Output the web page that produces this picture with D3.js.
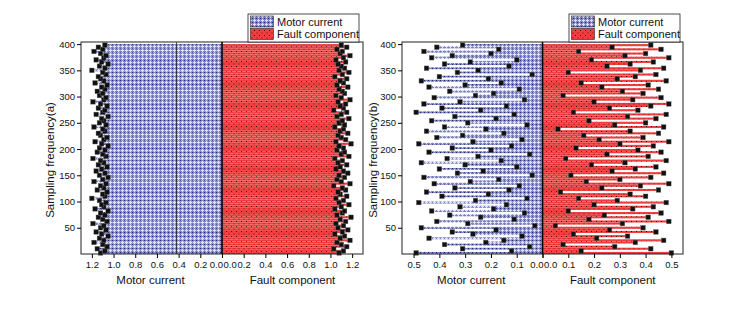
<!DOCTYPE html>
<html>
<head>
<meta charset="utf-8">
<script src="https://cdn.jsdelivr.net/npm/d3@7"></script>
<style>
  body { margin: 0; background: #fff; }
  svg { display: block; font-family: "Liberation Sans", Arial, sans-serif; }
</style>
</head>
<body>
<svg id="chart" width="740" height="309"></svg>
<script>
// sampling positions: one bar every 4 samples, 100 bars per side
var sampleStep = 4;
var yTicks = [50, 100, 150, 200, 250, 300, 350, 400];
var seriesNames = ["Motor current", "Fault component"];

// panel (a)
var motorA = [1.12,1.08,1.15,1.06,1.10,1.18,1.09,1.13,1.05,1.11,
  1.16,1.07,1.12,1.09,1.19,1.06,1.10,1.14,1.08,1.12,
  1.05,1.17,1.09,1.11,1.07,1.13,1.20,1.08,1.10,1.06,
  1.15,1.09,1.12,1.07,1.18,1.10,1.05,1.13,1.08,1.16,
  1.11,1.06,1.14,1.09,1.12,1.19,1.07,1.10,1.15,1.08,
  1.13,1.05,1.11,1.17,1.09,1.06,1.12,1.14,1.08,1.10,
  1.18,1.07,1.13,1.09,1.11,1.05,1.16,1.10,1.08,1.14,
  1.06,1.12,1.19,1.09,1.07,1.13,1.10,1.15,1.08,1.11,
  1.06,1.17,1.09,1.12,1.14,1.07,1.10,1.20,1.08,1.13,
  1.05,1.11,1.16,1.09,1.07,1.12,1.18,1.10,1.14,1.08];
var faultA = [1.08,1.12,1.03,1.15,1.10,1.06,1.18,1.09,1.13,1.04,
  1.11,1.16,1.07,1.12,1.05,1.14,1.09,1.19,1.06,1.11,
  1.13,1.04,1.10,1.17,1.08,1.12,1.05,1.15,1.09,1.07,
  1.14,1.11,1.03,1.18,1.10,1.06,1.13,1.08,1.16,1.12,
  1.05,1.09,1.15,1.07,1.11,1.04,1.17,1.10,1.13,1.06,
  1.12,1.08,1.19,1.05,1.14,1.10,1.07,1.16,1.09,1.12,
  1.04,1.13,1.08,1.11,1.17,1.06,1.10,1.15,1.03,1.12,
  1.09,1.14,1.07,1.18,1.10,1.05,1.13,1.11,1.08,1.16,
  1.06,1.12,1.09,1.15,1.04,1.11,1.17,1.08,1.13,1.10,
  1.07,1.14,1.05,1.12,1.18,1.09,1.11,1.06,1.15,1.10];
var ticksA = [0, 0.2, 0.4, 0.6, 0.8, 1.0, 1.2];

// panel (b)
var motorB = [0.49,0.12,0.31,0.05,0.38,0.22,0.15,0.44,0.08,0.27,
  0.35,0.18,0.47,0.03,0.29,0.41,0.11,0.24,0.36,0.07,
  0.43,0.19,0.32,0.14,0.48,0.26,0.06,0.39,0.21,0.45,
  0.13,0.34,0.09,0.42,0.28,0.17,0.46,0.04,0.33,0.23,
  0.40,0.10,0.30,0.47,0.16,0.37,0.25,0.05,0.44,0.20,
  0.35,0.12,0.48,0.27,0.08,0.41,0.31,0.15,0.45,0.22,
  0.38,0.06,0.29,0.43,0.18,0.34,0.11,0.49,0.24,0.39,
  0.14,0.46,0.32,0.07,0.42,0.26,0.19,0.36,0.09,0.44,
  0.30,0.16,0.47,0.21,0.40,0.04,0.33,0.25,0.45,0.13,
  0.38,0.28,0.10,0.43,0.35,0.20,0.46,0.17,0.41,0.31];
var faultB = [0.50,0.15,0.42,0.28,0.08,0.36,0.47,0.21,0.33,0.12,
  0.44,0.26,0.39,0.05,0.31,0.49,0.18,0.41,0.24,0.46,
  0.10,0.35,0.43,0.20,0.48,0.29,0.14,0.40,0.34,0.07,
  0.45,0.23,0.38,0.49,0.17,0.30,0.42,0.11,0.47,0.27,
  0.36,0.44,0.19,0.32,0.48,0.09,0.41,0.25,0.46,0.37,
  0.13,0.43,0.30,0.49,0.22,0.39,0.16,0.45,0.34,0.06,
  0.47,0.28,0.40,0.18,0.44,0.33,0.48,0.12,0.37,0.26,
  0.42,0.49,0.20,0.35,0.46,0.08,0.39,0.31,0.45,0.23,
  0.41,0.15,0.48,0.29,0.36,0.44,0.10,0.38,0.47,0.25,
  0.34,0.43,0.19,0.49,0.32,0.40,0.14,0.46,0.27,0.42];
var ticksB = [0, 0.1, 0.2, 0.3, 0.4, 0.5];

var svg = d3.select("#chart");
var defs = svg.append("defs");

function px(p, x, yy, c) {
  p.append("rect").attr("x", x).attr("y", yy).attr("width", 1).attr("height", 1).attr("fill", c);
}

// blue pattern: white crosses with dark dots between
var pb = defs.append("pattern").attr("id", "patBlue")
  .attr("patternUnits", "userSpaceOnUse").attr("width", 4).attr("height", 4);
pb.append("rect").attr("width", 4).attr("height", 4).attr("fill", "#7d82c4");
[[2,1],[1,2],[2,2],[3,2],[2,3]].forEach(function(p) { px(pb, p[0], p[1], "#dcdff8"); });
px(pb, 0, 0, "#282a6a");

// red dotted pattern
var pr = defs.append("pattern").attr("id", "patRed")
  .attr("patternUnits", "userSpaceOnUse").attr("width", 5).attr("height", 5);
pr.append("rect").attr("width", 5).attr("height", 5).attr("fill", "#f03e3e");
px(pr, 1, 1, "#3a0808");
px(pr, 3.5, 3.5, "#6a1010");

var y = d3.scaleLinear().domain([0, 404]).range([254, 42]);

function drawPanel(cfg) {
  var g = svg.append("g");
  var xl = d3.scaleLinear().domain([0, cfg.max]).range([cfg.xc, cfg.x0]);
  var xr = d3.scaleLinear().domain([0, cfg.max]).range([cfg.xc, cfg.x1]);

  var sides = [
    { data: cfg.motor, x: xl, fill: "url(#patBlue)" },
    { data: cfg.fault, x: xr, fill: "url(#patRed)" }
  ];

  sides.forEach(function(s) {
    g.append("g").selectAll("rect")
      .data(s.data)
      .enter().append("rect")
      .attr("x", function(d) { return Math.min(s.x(0), s.x(d)); })
      .attr("width", function(d) { return Math.abs(s.x(d) - s.x(0)); })
      .attr("y", function(d, i) { return y((i + 1) * sampleStep); })
      .attr("height", function(d, i) { return y(i * sampleStep) - y((i + 1) * sampleStep); })
      .attr("fill", s.fill);
  });

  if (cfg.refLine !== undefined) {
    g.append("line")
      .attr("x1", xl(cfg.refLine)).attr("x2", xl(cfg.refLine))
      .attr("y1", y(404)).attr("y2", y(0))
      .attr("stroke", "#222").attr("stroke-width", 0.8);
  }

  sides.forEach(function(s) {
    g.append("g").selectAll("rect")
      .data(s.data)
      .enter().append("rect")
      .attr("x", function(d) { return s.x(d) - 2.3; })
      .attr("y", function(d, i) { return y((i + 0.5) * sampleStep) - 2.3; })
      .attr("width", 4.6).attr("height", 4.6)
      .attr("fill", "#111").attr("stroke", "#666").attr("stroke-width", 0.4);
  });

  // frame
  g.append("rect")
    .attr("x", cfg.x0).attr("y", y(404))
    .attr("width", cfg.x1 - cfg.x0).attr("height", y(0) - y(404))
    .attr("fill", "none").attr("stroke", "#222").attr("stroke-width", 1);
  g.append("line")
    .attr("x1", cfg.xc).attr("x2", cfg.xc).attr("y1", y(404)).attr("y2", y(0))
    .attr("stroke", "#000").attr("stroke-width", 1.6);

  // y axis
  var ya = g.append("g").attr("transform", "translate(" + cfg.x0 + ",0)")
    .call(d3.axisLeft(y).tickValues(yTicks).tickSize(4).tickPadding(2));
  ya.select(".domain").remove();
  ya.selectAll("text").attr("font-size", 9.5).attr("fill", "#111");

  // x axes, the two 0.0 labels sit either side of the centre line
  var fmt = d3.format(".1f");
  var xa1 = g.append("g").attr("transform", "translate(0," + y(0) + ")")
    .call(d3.axisBottom(xl).tickValues(cfg.ticks).tickFormat(fmt).tickSize(4).tickPadding(3));
  var xa2 = g.append("g").attr("transform", "translate(0," + y(0) + ")")
    .call(d3.axisBottom(xr).tickValues(cfg.ticks).tickFormat(fmt).tickSize(4).tickPadding(3));
  xa1.selectAll(".tick").filter(function(d) { return d === 0; }).select("text")
    .attr("text-anchor", "end").attr("dx", 0.5);
  xa2.selectAll(".tick").filter(function(d) { return d === 0; }).select("text")
    .attr("text-anchor", "start").attr("dx", 1);
  [xa1, xa2].forEach(function(a) {
    a.select(".domain").remove();
    a.selectAll("text").attr("font-size", 9.5).attr("fill", "#111");
  });

  // axis titles
  g.append("text").attr("x", (cfg.x0 + cfg.xc) / 2 - 1).attr("y", 284)
    .attr("text-anchor", "middle").attr("font-size", 11.5).attr("fill", "#111")
    .text(seriesNames[0]);
  g.append("text").attr("x", (cfg.xc + cfg.x1) / 2).attr("y", 284)
    .attr("text-anchor", "middle").attr("font-size", 11.5).attr("fill", "#111")
    .text(seriesNames[1]);
  g.append("text")
    .attr("transform", "translate(" + cfg.titleX + ",160) rotate(-90)")
    .attr("text-anchor", "middle").attr("font-size", 11.5).attr("fill", "#111")
    .text(cfg.yTitle);

  // legend
  var lg = g.append("g").attr("transform", "translate(" + cfg.legX + ",14)");
  lg.append("rect").attr("width", 111).attr("height", 28)
    .attr("fill", "#fff").attr("stroke", "#222").attr("stroke-width", 0.8);
  ["url(#patBlue)", "url(#patRed)"].forEach(function(f, i) {
    lg.append("rect").attr("x", 2.5).attr("y", 2 + i * 12.5).attr("width", 23).attr("height", 11)
      .attr("fill", f).attr("stroke", "#222").attr("stroke-width", 0.6);
    lg.append("text").attr("x", 29).attr("y", 11.5 + i * 12.5)
      .attr("font-size", 11).attr("fill", "#111").text(seriesNames[i]);
  });
}

drawPanel({ x0: 81, xc: 222, x1: 363, max: 1.3, motor: motorA, fault: faultA,
  ticks: ticksA, yTitle: "Sampling frequency(a)", titleX: 54, legX: 248, refLine: 0.42 });
drawPanel({ x0: 402, xc: 542.5, x1: 683, max: 0.545, motor: motorB, fault: faultB,
  ticks: ticksB, yTitle: "Sampling frequency(b)", titleX: 377, legX: 569 });
</script>
</body>
</html>
